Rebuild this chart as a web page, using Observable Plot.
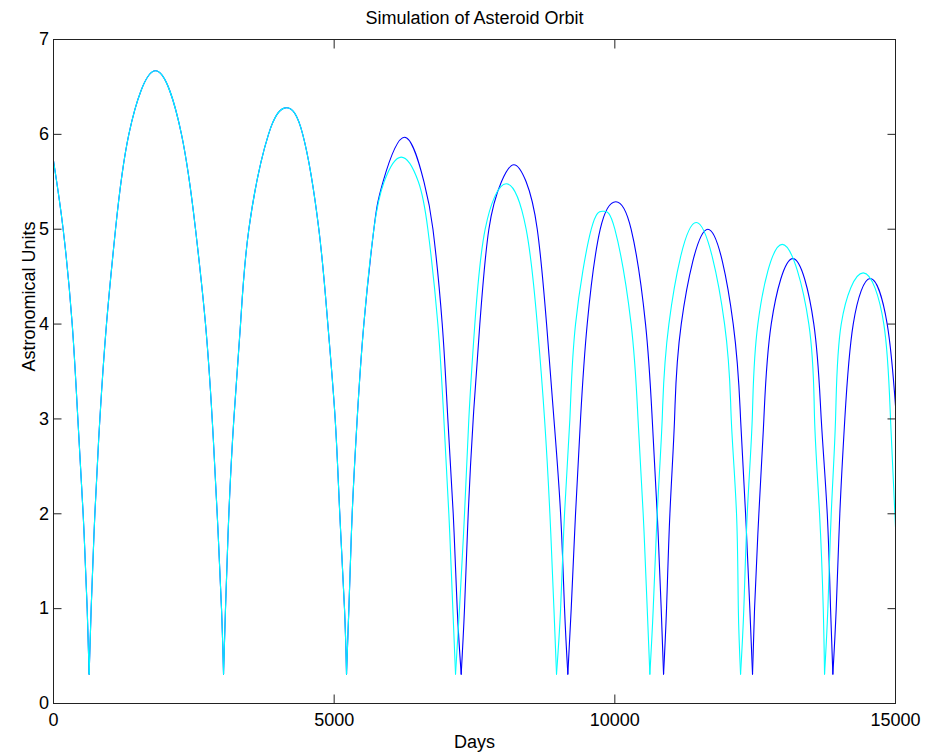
<!DOCTYPE html>
<html>
<head>
<meta charset="utf-8">
<script src="https://cdn.jsdelivr.net/npm/d3@7"></script>
<script src="https://cdn.jsdelivr.net/npm/@observablehq/plot@0.6"></script>
<style>
  body { margin: 0; background: #ffffff; }
  #chart { width: 926px; height: 755px; }
</style>
</head>
<body>
<div id="chart"></div>
<script>
// Tick values
const xTicks = [0, 5000, 10000, 15000];
const yTicks = [0, 1, 2, 3, 4, 5, 6, 7];

// Cyan series
const cyanDays = [0, 172, 333, 434, 528, 600, 635, 671, 737, 826, 944, 1105, 1342, 1817, 2280, 2530, 2708, 2827, 2916, 2993, 3029,
  3064, 3124, 3213, 3332, 3480, 3830, 4150, 4440, 4727, 4887, 5018, 5100, 5184, 5220,
  5262, 5321, 5410, 5529, 5707, 5890, 6195, 6500, 6669, 6847, 6954, 7043, 7114, 7162,
  7233, 7322, 7399, 7506, 7690, 8065, 8420, 8618, 8748, 8843, 8915, 8961,
  9034, 9104, 9199, 9300, 9580, 9793, 10000, 10290, 10413, 10505, 10577, 10624,
  10684, 10755, 10844, 10963, 11450, 11955, 12074, 12168, 12200, 12240,
  12298, 12359, 12448, 12548, 12982, 13456, 13558, 13647, 13713, 13736,
  13795, 13855, 13932, 14033, 14426, 14792, 14911, 15000];
const cyanAU = [5.72, 5.0, 4.0, 3.0, 2.0, 1.0, 0.31, 1.0, 2.0, 3.0, 4.0, 5.0, 6.0, 6.67, 6.0, 5.0, 4.0, 3.0, 2.0, 1.0, 0.31,
  1.0, 2.0, 3.0, 4.0, 5.0, 6.0, 6.28, 6.0, 5.0, 4.0, 3.0, 2.0, 1.0, 0.31,
  1.0, 2.0, 3.0, 4.0, 5.0, 5.5, 5.76, 5.5, 5.0, 4.0, 3.0, 2.0, 1.0, 0.31,
  1.0, 2.0, 3.0, 4.0, 5.0, 5.48, 5.0, 4.0, 3.0, 2.0, 1.0, 0.31,
  1.0, 2.0, 3.0, 4.0, 5.0, 5.19, 5.0, 4.0, 3.0, 2.0, 1.0, 0.31,
  1.0, 2.0, 3.0, 4.0, 5.07, 4.0, 3.0, 2.0, 1.0, 0.31,
  1.0, 2.0, 3.0, 4.0, 4.84, 4.0, 3.0, 2.0, 1.0, 0.31,
  1.0, 2.0, 3.0, 4.0, 4.54, 4.0, 3.0, 1.86];

// Blue series
const blueDays = [0, 172, 333, 434, 528, 600, 635, 671, 737, 826, 944, 1105, 1342, 1817, 2280, 2530, 2708, 2827, 2916, 2993, 3029,
  3064, 3124, 3213, 3332, 3480, 3830, 4150, 4440, 4727, 4887, 5018, 5100, 5184, 5220,
  5262, 5321, 5410, 5529, 5707, 5870, 6253, 6600, 6760, 6925, 7025, 7121, 7192, 7263,
  7322, 7388, 7477, 7595, 7756, 7980, 8201, 8420, 8618, 8784, 8915, 9034, 9104, 9163,
  9223, 9300, 9389, 9508, 9740, 10018, 10290, 10547, 10666, 10755, 10826, 10868,
  10921, 10981, 11064, 11183, 11657, 12109, 12240, 12329, 12405, 12453,
  12489, 12566, 12655, 12786, 13171, 13545, 13677, 13784, 13843, 13884,
  13944, 14008, 14097, 14247, 14556, 14852, 15000];
const blueAU = [5.72, 5.0, 4.0, 3.0, 2.0, 1.0, 0.31, 1.0, 2.0, 3.0, 4.0, 5.0, 6.0, 6.67, 6.0, 5.0, 4.0, 3.0, 2.0, 1.0, 0.31,
  1.0, 2.0, 3.0, 4.0, 5.0, 6.0, 6.28, 6.0, 5.0, 4.0, 3.0, 2.0, 1.0, 0.31,
  1.0, 2.0, 3.0, 4.0, 5.0, 5.5, 5.97, 5.5, 5.0, 4.0, 3.0, 2.0, 1.0, 0.31,
  1.0, 2.0, 3.0, 4.0, 5.0, 5.5, 5.68, 5.5, 5.0, 4.0, 3.0, 2.0, 1.0, 0.31,
  1.0, 2.0, 3.0, 4.0, 5.0, 5.29, 5.0, 4.0, 3.0, 2.0, 1.0, 0.31,
  1.0, 2.0, 3.0, 4.0, 5.0, 4.0, 3.0, 2.0, 1.0, 0.31,
  1.0, 2.0, 3.0, 4.0, 4.69, 4.0, 3.0, 2.0, 1.0, 0.31,
  1.0, 2.0, 3.0, 4.0, 4.48, 4.0, 3.14];

// Split a series into arches at its troughs (local minima), so each arch is a smooth curve with a sharp cusp at the bottom.
function toArches(days, au) {
  const rows = [];
  let arch = 0;
  for (let i = 0; i < days.length; i++) {
    rows.push({day: days[i], au: au[i], arch});
    const isTrough = i > 0 && i < days.length - 1 && au[i] < au[i - 1] && au[i] < au[i + 1];
    if (isTrough) {
      arch++;
      rows.push({day: days[i], au: au[i], arch});
    }
  }
  return rows;
}
const cyan = toArches(cyanDays, cyanAU);
const blue = toArches(blueDays, blueAU);

const FONT = "'Liberation Sans', Arial, Helvetica, sans-serif";
const FS = 18;
const TICK = -8.5;

const chart = Plot.plot({
  width: 926,
  height: 755,
  marginLeft: 53,
  marginRight: 31,
  marginTop: 39,
  marginBottom: 52,
  style: {fontFamily: FONT, fontSize: FS + "px", background: "#ffffff", color: "#000000"},
  x: {domain: [0, 15000]},
  y: {domain: [0, 7]},
  marks: [
    Plot.line(blue, {x: "day", y: "au", z: "arch", stroke: "#0000ff", strokeWidth: 1.1, curve: "natural", clip: true}),
    Plot.line(cyan, {x: "day", y: "au", z: "arch", stroke: "#00ffff", strokeWidth: 1.1, curve: "natural", clip: true}),
    Plot.frame({stroke: "#222222", strokeWidth: 1}),
    Plot.axisX(xTicks, {anchor: "bottom", tickSize: TICK, tickPadding: 18.5, label: null, fontSize: FS, stroke: "#222222", tickFormat: d => String(d)}),
    Plot.axisX(xTicks, {anchor: "top", tickSize: TICK, label: null, tickFormat: () => "", stroke: "#222222"}),
    Plot.axisY(yTicks, {anchor: "left", tickSize: TICK, tickPadding: 13, label: null, fontSize: FS, stroke: "#222222", tickFormat: d => String(d)}),
    Plot.axisY(yTicks, {anchor: "right", tickSize: TICK, label: null, tickFormat: () => "", stroke: "#222222"}),
    Plot.text(["Simulation of Asteroid Orbit"], {frameAnchor: "top", dy: -21, lineAnchor: "middle", fontSize: FS, fill: "#000000"}),
    Plot.text(["Days"], {frameAnchor: "bottom", dy: 39, lineAnchor: "middle", fontSize: FS, fill: "#000000"}),
    Plot.text(["Astronomical Units"], {frameAnchor: "left", dx: -24, rotate: -90, lineAnchor: "middle", fontSize: FS, fill: "#000000"})
  ]
});
document.getElementById("chart").appendChild(chart);
</script>
</body>
</html>
